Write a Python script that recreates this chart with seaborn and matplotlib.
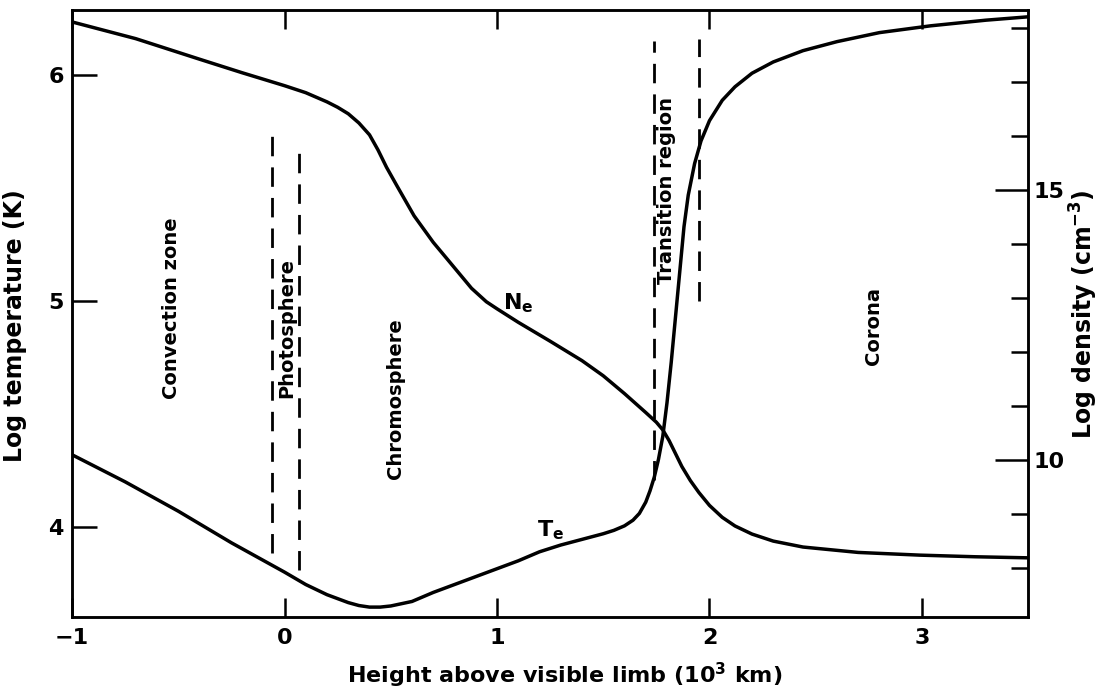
import matplotlib
matplotlib.use("Agg")
import matplotlib.pyplot as plt
import seaborn as sns
import pandas as pd
from matplotlib.ticker import FixedLocator, NullFormatter

# Electron temperature profile: height (10^3 km) vs log T (K)
te_height = [-1.0, -0.75, -0.5, -0.25, 0.0, 0.1, 0.2, 0.3, 0.35, 0.4, 0.45, 0.5,
             0.6, 0.7, 0.8, 0.9, 1.0, 1.1, 1.2, 1.3, 1.4, 1.5, 1.55, 1.6, 1.64,
             1.67, 1.7, 1.72, 1.74, 1.76, 1.78, 1.80, 1.82, 1.84, 1.86, 1.88,
             1.90, 1.93, 1.96, 2.0, 2.06, 2.12, 2.2, 2.3, 2.44, 2.6, 2.8, 3.04,
             3.3, 3.5]
te_logT = [4.32, 4.20, 4.07, 3.93, 3.80, 3.745, 3.70, 3.665, 3.652, 3.645,
           3.645, 3.65, 3.67, 3.71, 3.745, 3.78, 3.815, 3.85, 3.89, 3.92, 3.945,
           3.97, 3.985, 4.005, 4.03, 4.06, 4.11, 4.16, 4.22, 4.30, 4.40, 4.55,
           4.73, 4.93, 5.13, 5.33, 5.47, 5.61, 5.71, 5.80, 5.89, 5.95, 6.01,
           6.06, 6.11, 6.15, 6.19, 6.22, 6.245, 6.26]

# Electron density profile: height (10^3 km) vs log n (cm^-3)
ne_height = [-1.0, -0.7, -0.4, -0.2, 0.0, 0.1, 0.2, 0.25, 0.3, 0.35, 0.4, 0.44,
             0.48, 0.53, 0.61, 0.7, 0.77, 0.88, 0.95, 1.0, 1.1, 1.25, 1.4, 1.5,
             1.6, 1.7, 1.75, 1.78, 1.81, 1.84, 1.87, 1.91, 1.95, 2.0, 2.06,
             2.12, 2.2, 2.3, 2.44, 2.7, 2.99, 3.25, 3.5]
ne_logN = [18.11, 17.80, 17.42, 17.17, 16.93, 16.80, 16.63, 16.53, 16.41,
           16.24, 16.02, 15.74, 15.42, 15.07, 14.52, 14.03, 13.70, 13.18, 12.93,
           12.80, 12.55, 12.20, 11.84, 11.56, 11.23, 10.88, 10.70, 10.56, 10.36,
           10.12, 9.88, 9.62, 9.40, 9.16, 8.94, 8.78, 8.63, 8.50, 8.39, 8.29,
           8.24, 8.21, 8.19]

# Layer boundaries (dashed): height, lower and upper log T extent
boundary_x = [-0.06, 0.07, 1.74, 1.95]
boundary_lo = [3.885, 3.81, 4.21, 5.00]
boundary_hi = [5.73, 5.67, 6.155, 6.16]

# Layer names, placed at (height, log T)
layer_names = ["Convection zone", "Photosphere", "Chromosphere",
               "Transition region", "Corona"]
layer_x = [-0.53, 0.01, 0.52, 1.80, 2.77]
layer_y = [4.97, 4.88, 4.57, 5.49, 4.89]

x_ticks = [-1, 0, 1, 2, 3]
t_ticks = [4, 5, 6]
n_major = [10, 15]
n_minor = [8, 9, 11, 12, 13, 14, 16, 17, 18]

sns.set_theme(style="ticks")
plt.rcParams["font.family"] = ["DejaVu Sans"]
plt.rcParams["font.weight"] = "bold"
plt.rcParams["mathtext.default"] = "regular"

te = pd.DataFrame({"height": te_height, "logT": te_logT})
ne = pd.DataFrame({"height": ne_height, "logN": ne_logN})

fig = plt.figure(figsize=(11.08, 6.92), dpi=100)
ax = fig.add_axes([0.065, 0.108, 0.863, 0.8775])
ax2 = ax.twinx()

sns.lineplot(data=te, x="height", y="logT", ax=ax, color="black", lw=2.5,
             sort=False)
sns.lineplot(data=ne, x="height", y="logN", ax=ax2, color="black", lw=2.5,
             sort=False)

for bx, lo, hi in zip(boundary_x, boundary_lo, boundary_hi):
    ax.plot([bx, bx], [lo, hi], color="black", lw=2.0, dashes=(7, 4))

for name, lx, ly in zip(layer_names, layer_x, layer_y):
    ax.text(lx, ly, name, rotation=90, ha="center", va="center",
            fontsize=14, color="black", fontweight="bold")

ax.text(1.10, 4.99, r"N$_{e}$", fontsize=16, ha="center", va="center",
        color="black", fontweight="bold")
ax.text(1.25, 3.985, r"T$_{e}$", fontsize=16, ha="center", va="center",
        color="black", fontweight="bold")

ax.set_xlim(-1, 3.5)
ax.set_ylim(3.60, 6.29)
ax2.set_ylim(7.09, 18.33)

ax.set_xticks(x_ticks)
ax.set_xticklabels(["\u2212" + str(-v) if v < 0 else str(v) for v in x_ticks])
ax.set_yticks(t_ticks)
ax.tick_params(axis="x", direction="in", length=14, width=1.8, top=True,
               labeltop=False, labelsize=16, pad=8, colors="black")
ax.tick_params(axis="y", direction="in", length=18, width=1.8, right=False,
               labelsize=16, pad=6, colors="black")

ax2.yaxis.set_major_locator(FixedLocator(n_major))
ax2.yaxis.set_minor_locator(FixedLocator(n_minor))
ax2.yaxis.set_minor_formatter(NullFormatter())
ax2.tick_params(axis="y", which="major", direction="in", length=24, width=1.8,
                labelsize=16, pad=4, colors="black")
ax2.tick_params(axis="y", which="minor", direction="in", length=12, width=1.8,
                colors="black")

for a in (ax, ax2):
    for s in a.spines.values():
        s.set_visible(True)
        s.set_linewidth(1.8)
        s.set_color("black")

ax.set_xlabel(r"Height above visible limb (10$^{3}$ km)", fontsize=16,
              color="black", fontweight="bold")
ax.set_ylabel("Log temperature (K)", fontsize=17, color="black",
              fontweight="bold")
ax2.set_ylabel(r"Log density (cm$^{-3}$)", fontsize=17, color="black",
               fontweight="bold", rotation=90)
ax.xaxis.set_label_coords(0.515, -0.072)
ax.yaxis.set_label_coords(-0.047, 0.48)
ax2.yaxis.set_label_coords(1.041, 0.50)

fig.savefig("out.png", dpi=100, facecolor="white")
